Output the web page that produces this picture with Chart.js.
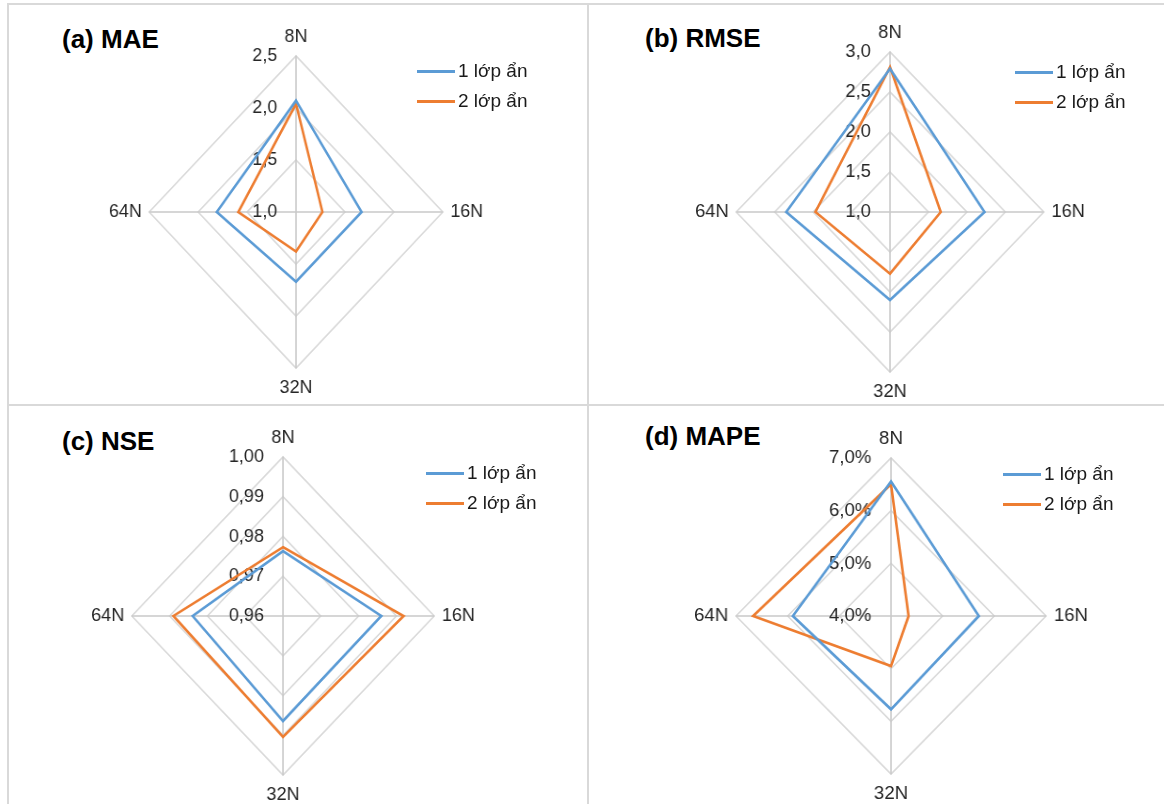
<!DOCTYPE html>
<html lang="vi">
<head>
<meta charset="UTF-8">
<title>MAE, RMSE, NSE, MAPE - radar</title>
<script src="https://cdn.jsdelivr.net/npm/chart.js"></script>
<style>
  body {
    margin: 0;
    width: 1164px;
    height: 804px;
    overflow: hidden;
    background: #fff;
    position: relative;
    font-family: "Liberation Sans", Arial, sans-serif;
  }
  .rule { position: absolute; background: #d9d9d9; }
  .title {
    position: absolute;
    font-weight: bold;
    font-size: 26px;
    line-height: 26px;
    color: #000;
    white-space: nowrap;
  }
  .wrap { position: absolute; }
  .wrap canvas { transform-origin: 50% 50%; }
  .legend {
    position: absolute;
    font-size: 19px;
    color: #1a1a1a;
    white-space: nowrap;
  }
  .legend .row { display: flex; align-items: center; height: 30px; }
  .legend .sw { display: inline-block; width: 38px; height: 3px; margin-right: 3px; }
</style>
</head>
<body>
  <!-- panel borders -->
  <div class="rule" style="left:7px; top:3px; width:2px; height:801px;"></div>
  <div class="rule" style="left:7px; top:3px; width:1157px; height:2px;"></div>
  <div class="rule" style="left:587px; top:3px; width:2px; height:801px;"></div>
  <div class="rule" style="left:7px; top:404px; width:1157px; height:2px;"></div>

  <div class="title" style="left:62px; top:26px;">(a) MAE</div>
  <div class="title" style="left:645px; top:25px;">(b) RMSE</div>
  <div class="title" style="left:62px; top:428px;">(c) NSE</div>
  <div class="title" style="left:645px; top:423px;">(d) MAPE</div>

  <div class="wrap" style="left:97px; top:14px;"><canvas id="chartMae" width="398" height="398"></canvas></div>
  <div class="wrap" style="left:687px; top:10px;"><canvas id="chartRmse" width="406" height="406"></canvas></div>
  <div class="wrap" style="left:81px; top:415px;"><canvas id="chartNse" width="404" height="404"></canvas></div>
  <div class="wrap" style="left:690px; top:416px;"><canvas id="chartMape" width="402" height="402"></canvas></div>

  <div class="legend" id="legendMae" style="left:417px; top:56px;"></div>
  <div class="legend" id="legendRmse" style="left:1015px; top:57px;"></div>
  <div class="legend" id="legendNse" style="left:426px; top:458px;"></div>
  <div class="legend" id="legendMape" style="left:1003px; top:459px;"></div>

<script>
    // Axes and series
    const axes = ['8N', '16N', '32N', '64N'];
    const seriesNames = ['1 lớp ẩn', '2 lớp ẩn'];
    const seriesColors = ['#5b9bd5', '#ed7d31'];

    // (a) MAE
    const maeOne = [2.07, 1.67, 1.67, 1.81];
    const maeTwo = [2.04, 1.27, 1.38, 1.59];
    const maeTicks = [1.0, 1.5, 2.0, 2.5];

    // (b) RMSE
    const rmseOne = [2.79, 2.23, 2.10, 2.35];
    const rmseTwo = [2.81, 1.66, 1.77, 1.97];
    const rmseTicks = [1.0, 1.5, 2.0, 2.5, 3.0];

    // (c) NSE
    const nseOne = [0.9763, 0.9860, 0.9864, 0.9839];
    const nseTwo = [0.9773, 0.9919, 0.9904, 0.9890];
    const nseTicks = [0.96, 0.97, 0.98, 0.99, 1.00];

    // (d) MAPE
    const mapeOne = [0.0655, 0.0570, 0.0577, 0.0590];
    const mapeTwo = [0.0650, 0.0434, 0.0495, 0.0667];
    const mapeTicks = [0.04, 0.05, 0.06, 0.07];

    const FONT = '"Liberation Sans", Arial, sans-serif';
    const TEXT = '#262626';

    function comma(v, digits) {
        return v.toFixed(digits).replace('.', ',');
    }

    // draws the value labels left of the vertical axis, right aligned
    function tickLabels(format) {
        return {
            id: 'tickLabels',
            beforeDatasetsDraw(chart) {
                const s = chart.scales.r;
                const ctx = chart.ctx;
                ctx.save();
                ctx.font = '19px ' + FONT;
                ctx.fillStyle = TEXT;
                ctx.textAlign = 'right';
                ctx.textBaseline = 'middle';
                s.ticks.forEach(t => {
                    const y = s.yCenter - s.getDistanceFromCenterForValue(t.value);
                    ctx.fillText(format(t.value), s.xCenter - 20, y);
                });
                ctx.restore();
            }
        };
    }

    function makeRadar(id, legendId, one, two, ticks, format, squeeze) {
        const canvas = document.getElementById(id);
        canvas.style.transform = 'scaleX(' + squeeze + ')';
        const chart = new Chart(canvas.getContext('2d'), {
            type: 'radar',
            data: {
                labels: axes,
                datasets: [one, two].map((vals, i) => ({
                    label: seriesNames[i],
                    data: vals,
                    borderColor: seriesColors[i],
                    backgroundColor: 'transparent',
                    borderWidth: 2.6,
                    borderJoinStyle: 'miter',
                    fill: false,
                    pointRadius: 0,
                    pointHoverRadius: 0,
                    tension: 0
                }))
            },
            options: {
                responsive: false,
                animation: false,
                layout: { padding: 0 },
                plugins: {
                    legend: { display: false },
                    tooltip: { enabled: false }
                },
                scales: {
                    r: {
                        min: ticks[0],
                        max: ticks[ticks.length - 1],
                        beginAtZero: false,
                        ticks: {
                            display: false,
                            stepSize: ticks[1] - ticks[0]
                        },
                        grid: { color: '#d9d9d9', lineWidth: 1.6 },
                        angleLines: { color: '#c9c9c9', lineWidth: 1.6 },
                        pointLabels: {
                            font: { family: FONT, size: 19 },
                            color: TEXT,
                            padding: 8
                        }
                    }
                }
            },
            plugins: [tickLabels(format)]
        });

        // html legend built from the datasets
        const box = document.getElementById(legendId);
        chart.data.datasets.forEach(ds => {
            const row = document.createElement('div');
            row.className = 'row';
            const sw = document.createElement('span');
            sw.className = 'sw';
            sw.style.background = ds.borderColor;
            const txt = document.createElement('span');
            txt.textContent = ds.label;
            row.appendChild(sw);
            row.appendChild(txt);
            box.appendChild(row);
        });
        return chart;
    }

    makeRadar('chartMae', 'legendMae', maeOne, maeTwo, maeTicks, v => comma(v, 1), 0.94);
    makeRadar('chartRmse', 'legendRmse', rmseOne, rmseTwo, rmseTicks, v => comma(v, 1), 0.96);
    makeRadar('chartNse', 'legendNse', nseOne, nseTwo, nseTicks, v => comma(v, 2), 0.95);
    makeRadar('chartMape', 'legendMape', mapeOne, mapeTwo, mapeTicks, v => comma(v * 100, 1) + '%', 0.98);
</script>
</body>
</html>
